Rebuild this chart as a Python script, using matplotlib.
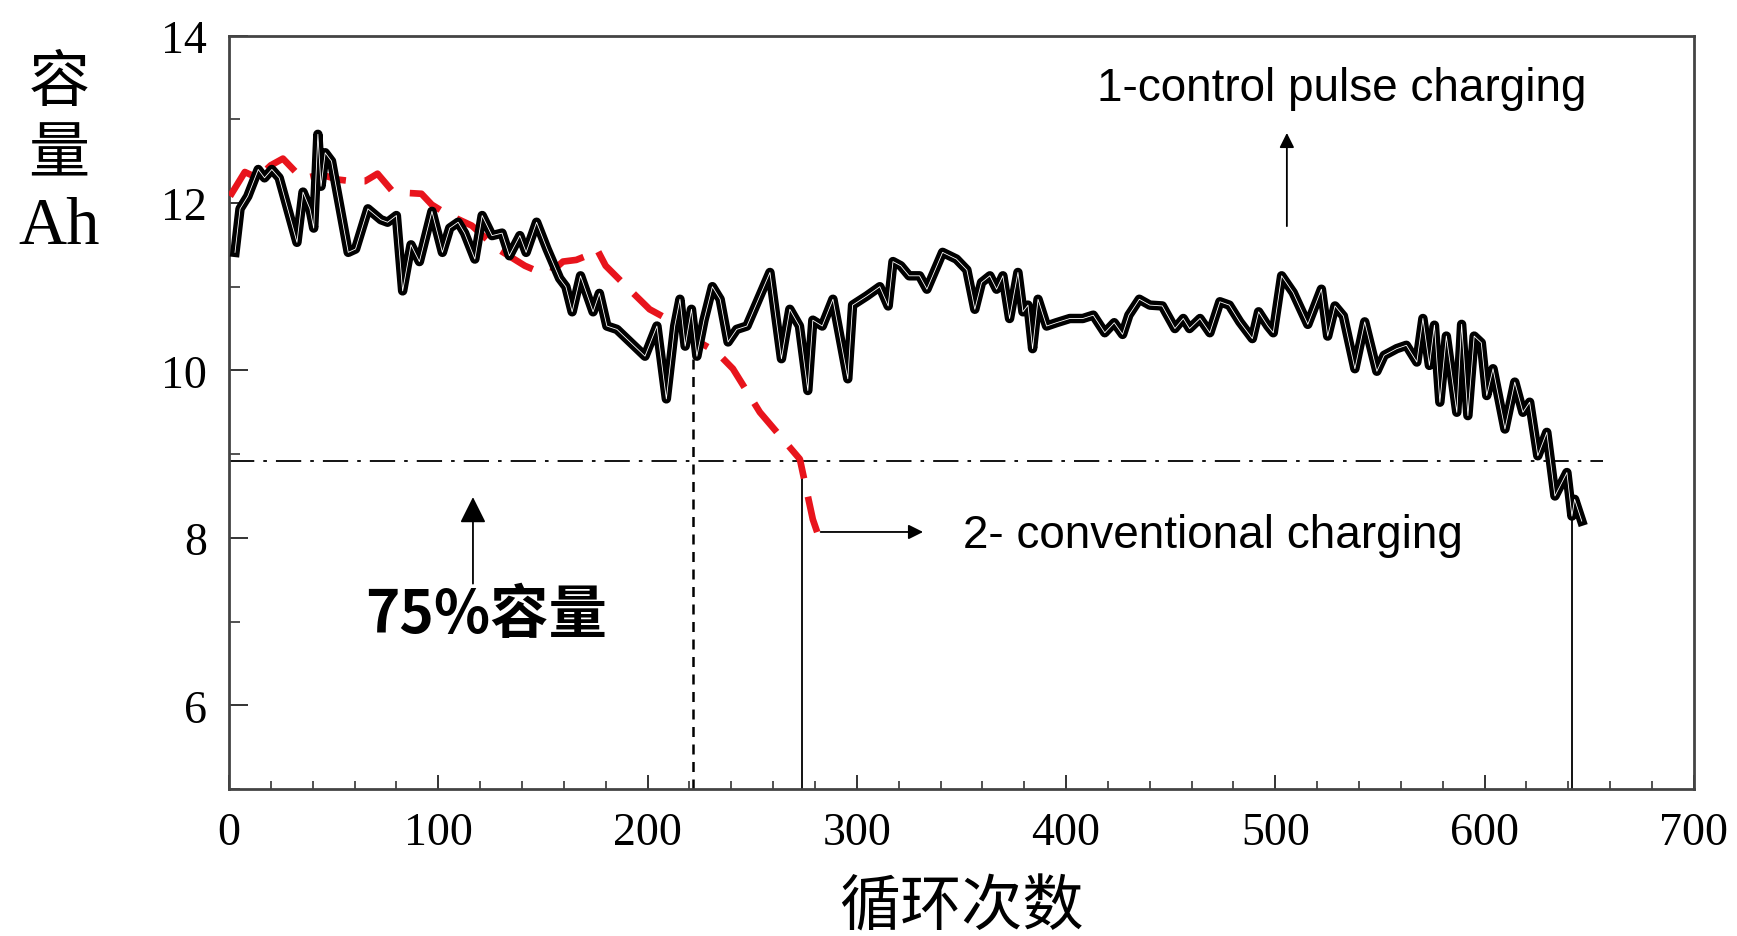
import numpy as np
import matplotlib
matplotlib.use('Agg')
import matplotlib.pyplot as plt

plt.rcParams['font.family'] = ['Liberation Serif', 'Noto Sans CJK SC']

# 1 - control pulse charging (cycles, capacity Ah)
pulse_cycles = [2.9, 5.3, 9, 14, 17, 20.5, 24, 32.5, 35.4, 38.7, 40.5, 42.5, 44, 46, 49, 57, 60.5,
                66.4, 72.6, 75.8, 80, 83, 87, 91, 94, 97, 102, 105.5, 109.5, 112.6, 117.5, 121,
                125.7, 130.5, 134, 139, 142, 147, 152, 158, 161, 164, 168, 174, 177, 180.6, 185.4,
                190, 198.8, 204.5, 209, 213, 215.5, 218, 221, 223.6, 227, 231, 234.7, 238.5, 242.6,
                247.5, 253.7, 258.5, 264, 268, 272.6, 276.6, 279, 283.5, 288.6, 295.7, 298, 304.8,
                311, 315, 317.3, 321, 325, 330, 333.5, 341, 347.6, 352.6, 356.4, 359.6, 363.6,
                366.8, 369.8, 373, 377, 379.4, 381.8, 384, 386.6, 390.7, 395.4, 401.8, 408, 413,
                418.5, 423, 427, 430, 435, 440, 446, 452, 456, 459, 464, 468.7, 473.5, 478, 483,
                489, 492, 496.4, 499, 503, 508.5, 515.5, 522, 525, 528.5, 532.5, 538, 542.7, 548.5,
                552, 558, 562.6, 567.6, 570.5, 573.6, 576, 578.6, 581.7, 586.7, 589, 592, 595,
                598.4, 601, 604, 609.7, 614.4, 618.3, 621.5, 625.4, 629.7, 633.6, 639.3, 641.7,
                643, 646.4]
pulse_cap = [11.41, 11.93, 12.08, 12.4, 12.3, 12.4, 12.3, 11.53, 12.13, 11.93, 11.7, 12.82, 12.2,
             12.6, 12.5, 11.41, 11.45, 11.93, 11.8, 11.77, 11.85, 10.95, 11.5, 11.3, 11.6, 11.9,
             11.41, 11.7, 11.77, 11.64, 11.33, 11.85, 11.61, 11.64, 11.37, 11.61, 11.41, 11.77,
             11.45, 11.1, 11.0, 10.7, 11.13, 10.7, 10.92, 10.53, 10.49, 10.38, 10.17, 10.53, 9.66,
             10.53, 10.85, 10.29, 10.73, 10.17, 10.6, 11.0, 10.85, 10.34, 10.49, 10.53, 10.89,
             11.17, 10.14, 10.73, 10.53, 9.76, 10.6, 10.53, 10.85, 9.9, 10.78, 10.89, 11.0, 10.77,
             11.3, 11.25, 11.13, 11.13, 10.97, 11.41, 11.33, 11.2, 10.73, 11.05, 11.13, 10.97,
             11.13, 10.62, 11.17, 10.7, 10.78, 10.26, 10.85, 10.53, 10.57, 10.62, 10.62, 10.66,
             10.45, 10.57, 10.43, 10.66, 10.85, 10.78, 10.77, 10.5, 10.62, 10.5, 10.62, 10.45,
             10.82, 10.78, 10.58, 10.38, 10.7, 10.53, 10.45, 11.13, 10.93, 10.55, 10.97, 10.41,
             10.77, 10.65, 10.02, 10.58, 9.99, 10.18, 10.26, 10.3, 10.1, 10.62, 10.06, 10.54, 9.62,
             10.41, 9.5, 10.55, 9.46, 10.41, 10.33, 9.7, 10.02, 9.3, 9.86, 9.5, 9.62, 8.98, 9.26,
             8.5, 8.78, 8.26, 8.46, 8.2]

# 2 - conventional charging
conv_cycles = [0.5, 7.6, 13.6, 20, 25.8, 35, 44, 52, 58.8, 65, 71, 77.8, 85, 92, 96.9, 104, 116,
               128.5, 141.4, 146, 151, 156, 159.6, 166, 172, 175.8, 180, 190, 201, 212, 221.7,
               233, 240.8, 253.7, 272.8, 279, 283.8]
conv_cap = [12.08, 12.37, 12.3, 12.45, 12.53, 12.29, 12.34, 12.28, 12.26, 12.26, 12.35, 12.15,
            12.12, 12.11, 11.98, 11.87, 11.73, 11.45, 11.25, 11.2, 11.25, 11.22, 11.3, 11.32,
            11.38, 11.45, 11.25, 11.0, 10.73, 10.58, 10.38, 10.22, 10.02, 9.5, 8.94, 8.22, 7.87]

cap_75 = 8.92
end_conv, end_pulse, mark_dash = 273.6, 641.7, 221.7

fig = plt.figure(figsize=(17.37, 9.37), dpi=100)
ax = fig.add_axes([0.1318, 0.1569, 0.8434, 0.8041])

ax.plot(conv_cycles, conv_cap, color='#e8141c', lw=4.8, dashes=(5.5, 2.8), zorder=3)
ax.plot(pulse_cycles, pulse_cap, color='black', lw=6.8, zorder=4, solid_joinstyle='round')
ax.plot(pulse_cycles, pulse_cap, color='white', lw=0.6, zorder=5)

# 75% capacity line and markers
ax.plot([0, 656.5], [cap_75, cap_75], color='black', lw=1.3, dashes=(14, 5, 2, 5), zorder=2)
ax.plot([mark_dash, mark_dash], [5, 10.17], color='black', lw=1.8, dashes=(4, 3), zorder=2)
ax.plot([end_conv, end_conv], [5, cap_75], color='black', lw=1.3, zorder=2)
ax.plot([end_pulse, end_pulse], [5, 8.26], color='black', lw=1.3, zorder=2)

# annotations
ax.annotate('', xy=(505.5, 12.87), xytext=(505.5, 11.69),
            arrowprops=dict(arrowstyle='-|>', color='black', lw=1.3, mutation_scale=22))
ax.text(415, 13.37, '1-control pulse charging', family='Liberation Sans', fontsize=33,
        va='center', ha='left')
ax.annotate('', xy=(333, 8.07), xytext=(281.4, 8.07),
            arrowprops=dict(arrowstyle='-|>', color='black', lw=1.3, mutation_scale=22))
ax.text(350.7, 8.03, '2- conventional charging', family='Liberation Sans', fontsize=33,
        va='center', ha='left')
ax.annotate('', xy=(116.6, 8.52), xytext=(116.6, 7.42),
            arrowprops=dict(arrowstyle='-|>', color='black', lw=1.3, mutation_scale=40))
ax.text(123, 7.08, '75%容量', family=['Noto Sans CJK SC'], fontweight='bold', fontsize=42,
        va='center', ha='center')

ax.set_xlim(0, 700)
ax.set_ylim(5, 14)
ax.set_xticks(np.arange(0, 701, 100))
ax.set_xticks(np.arange(0, 701, 20), minor=True)
ax.set_yticks([6, 8, 10, 12, 14])
ax.set_yticks([5, 7, 9, 11, 13], minor=True)
ax.tick_params(axis='both', which='both', direction='in', labelsize=33, pad=16, color='#333333')
ax.tick_params(axis='x', which='major', length=10, width=1.4)
ax.tick_params(axis='x', which='minor', length=6, width=1.2)
ax.tick_params(axis='y', which='major', length=14, width=1.4)
ax.tick_params(axis='y', which='minor', length=8, width=1.2)
for sp in ax.spines.values():
    sp.set_linewidth(2.0)
    sp.set_color('#444444')

ax.set_xlabel('循环次数', family=['Noto Sans CJK SC'], fontsize=44, labelpad=16)
fig.text(0.034, 0.911, '容', family=['Noto Sans CJK SC'], fontsize=44, ha='center', va='center')
fig.text(0.034, 0.834, '量', family=['Noto Sans CJK SC'], fontsize=44, ha='center', va='center')
fig.text(0.034, 0.757, 'Ah', fontsize=48, ha='center', va='center')

fig.savefig('out.png', dpi=100)
